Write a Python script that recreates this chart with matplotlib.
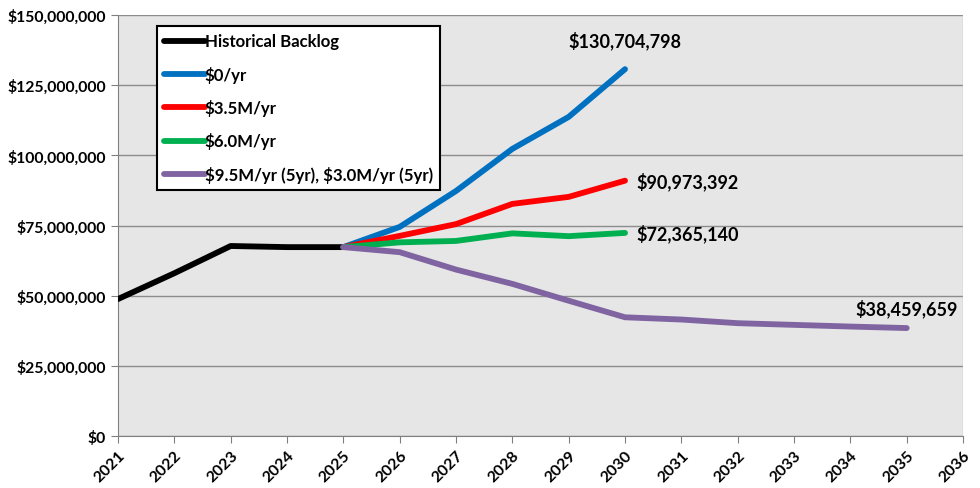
import matplotlib
matplotlib.use("Agg")
import matplotlib.pyplot as plt
from matplotlib.ticker import FuncFormatter, MultipleLocator

plt.rcParams['font.family'] = 'Lato'
plt.rcParams['font.weight'] = 'bold'
plt.rcParams['text.parse_math'] = False

hist_years = [2021, 2022, 2023, 2024, 2025]
hist_vals = [48.8e6, 58.0e6, 67.7e6, 67.3e6, 67.3e6]

proj_years = [2025, 2026, 2027, 2028, 2029, 2030]
zero_vals = [67.3e6, 74.5e6, 87.3e6, 102.3e6, 113.7e6, 130704798]
m35_vals = [67.3e6, 71.3e6, 75.5e6, 82.7e6, 85.2e6, 90973392]
m60_vals = [67.3e6, 69.0e6, 69.5e6, 72.2e6, 71.2e6, 72365140]

purple_years = [2025, 2026, 2027, 2028, 2029, 2030, 2031, 2032, 2033, 2034, 2035]
purple_vals = [67.3e6, 65.5e6, 59.3e6, 54.2e6, 48.2e6, 42.3e6, 41.5e6, 40.2e6, 39.6e6, 39.0e6, 38459659]

labels = ["Historical Backlog", "$0/yr", "$3.5M/yr", "$6.0M/yr", "$9.5M/yr (5yr), $3.0M/yr (5yr)"]
colors = ["#000000", "#0070C0", "#FF0000", "#00B050", "#8064A2"]

fig = plt.figure(figsize=(9.8, 4.89), dpi=100)
ax = fig.add_axes([0.1204, 0.1063, 0.8623, 0.861])
ax.set_facecolor("#E6E6E6")

lw = 4.2
series = [(hist_years, hist_vals), (proj_years, zero_vals), (proj_years, m35_vals),
          (proj_years, m60_vals), (purple_years, purple_vals)]
for (xs, ys), lab, c in zip(series, labels, colors):
    ax.plot(xs, ys, color=c, lw=lw, label=lab, solid_capstyle='round', zorder=3)

ax.set_xlim(2021, 2036)
ax.set_ylim(0, 150e6)
ax.set_xticks(range(2021, 2037))
ax.set_xticklabels([str(y) for y in range(2021, 2037)], rotation=45, ha='right',
                   rotation_mode='anchor', fontsize=11.5, fontweight='bold', fontfamily='Lato')
ax.yaxis.set_major_locator(MultipleLocator(25e6))
ax.yaxis.set_major_formatter(FuncFormatter(lambda v, p: "${:,.0f}".format(v)))
ax.tick_params(axis='y', labelsize=11.3, length=5, color='#808080', direction='out')
ax.tick_params(axis='x', length=5, color='#808080', direction='out')
for t in ax.get_yticklabels():
    t.set_fontweight('bold')
    t.set_fontfamily('Lato')
ax.grid(axis='y', color='#8C8C8C', lw=1)
ax.set_axisbelow(True)
for s in ['left', 'bottom']:
    ax.spines[s].set_color('#808080')
for s in ['top', 'right']:
    ax.spines[s].set_visible(False)
ax.axvline(2036, color='#BFBFBF', lw=1, zorder=1)

ann_kw = dict(fontsize=13, fontweight='bold', fontfamily='Lato')
ax.annotate("${:,.0f}".format(zero_vals[-1]), (proj_years[-1], zero_vals[-1]),
            xytext=(0, 14), textcoords='offset points', ha='center', va='bottom', **ann_kw)
ax.annotate("${:,.0f}".format(m35_vals[-1]), (proj_years[-1], m35_vals[-1]),
            xytext=(8, 0), textcoords='offset points', ha='left', va='center', **ann_kw)
ax.annotate("${:,.0f}".format(m60_vals[-1]), (proj_years[-1], m60_vals[-1]),
            xytext=(8, 0), textcoords='offset points', ha='left', va='center', **ann_kw)
ax.annotate("${:,.0f}".format(purple_vals[-1]), (purple_years[-1], purple_vals[-1]),
            xytext=(0, 8), textcoords='offset points', ha='center', va='bottom', **ann_kw)

leg = ax.legend(loc='upper left', bbox_to_anchor=(0.046, 0.974), frameon=True, fancybox=False,
                edgecolor='black', framealpha=1, prop=dict(family='Lato', weight='bold', size=12.1),
                handlelength=2.4, handletextpad=0.0, labelspacing=0.97, borderpad=0.45,
                borderaxespad=0)
leg.get_frame().set_linewidth(1.5)

fig.savefig("out.png", dpi=100)
